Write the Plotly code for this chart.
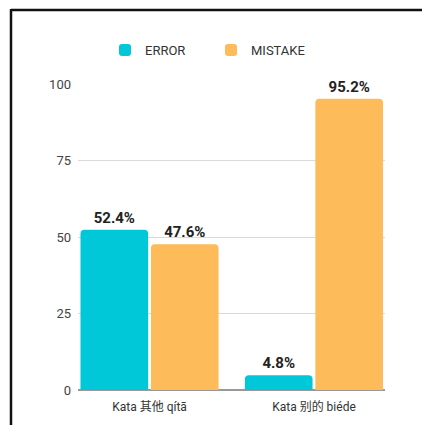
import plotly.graph_objects as go

categories = ["Kata 其他 qítā", "Kata 别的 biéde"]
error_vals = [52.4, 4.8]
mistake_vals = [47.6, 95.2]
y_ticks = [0, 25, 50, 75, 100]

L, R, T, B = 78, 37, 84, 35
W, H = 422, 425
pw, ph = W - L - R, H - T - B

def px(x):
    return (x - L) / pw

def py(y):
    return (H - B - y) / ph

label_font = dict(family="Roboto, 'Noto Sans CJK SC'", size=15, color="#222", weight="bold")

fig = go.Figure()
fig.add_trace(go.Bar(
    name="ERROR", x=categories, y=error_vals,
    marker=dict(color="#00C8D8", line=dict(width=0)),
    text=[f"{v}%" for v in error_vals], textposition="outside",
    textfont=label_font, cliponaxis=False,
))
fig.add_trace(go.Bar(
    name="MISTAKE", x=categories, y=mistake_vals,
    marker=dict(color="#FDBB5A", line=dict(width=0)),
    text=[f"{v}%" for v in mistake_vals], textposition="outside",
    textfont=label_font, cliponaxis=False,
))

fig.update_layout(
    width=W, height=H,
    margin=dict(l=L, r=R, t=T, b=B, pad=0),
    paper_bgcolor="white", plot_bgcolor="white",
    barmode="group", bargap=0.143, bargroupgap=0.04, barcornerradius=4,
    font=dict(family="Roboto, 'Noto Sans CJK SC'", size=12, color="#333"),
    showlegend=True,
    legend=dict(orientation="h", x=px(105), xanchor="left", y=py(50), yanchor="middle",
                font=dict(size=13, color="#333"), entrywidth=61, entrywidthmode="pixels",
                bgcolor="rgba(0,0,0,0)"),
    xaxis=dict(type="category", range=[-0.435, 1.432], showgrid=False, showline=False,
               ticks="", ticklabelstandoff=8, tickfont=dict(size=12, color="#333"), fixedrange=True),
    yaxis=dict(range=[0, 100], tickvals=y_ticks, showgrid=True, gridcolor="#DADADA",
               gridwidth=1, zeroline=True, zerolinecolor="#999", zerolinewidth=2,
               ticks="", ticklabelstandoff=6, tickfont=dict(size=13, color="#444"), showline=False),
    shapes=[
        dict(type="line", xref="paper", yref="paper", x0=px(11), x1=px(423), y0=py(10), y1=py(10),
             line=dict(color="#111", width=2.5)),
        dict(type="line", xref="paper", yref="paper", x0=px(11), x1=px(11), y0=py(9), y1=py(426),
             line=dict(color="#111", width=2.5)),
    ],
)

fig.write_html("out.html")
